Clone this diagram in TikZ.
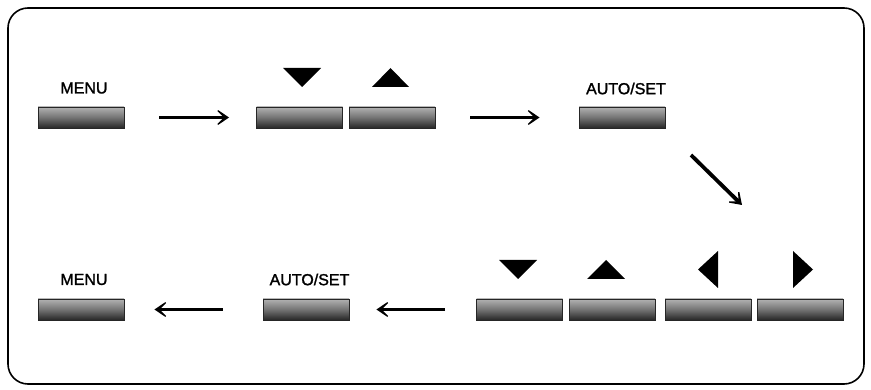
\documentclass[tikz,border=0pt]{standalone}
\usepackage{fontspec}
\setmainfont{Liberation Sans}[FakeBold=1.5]
\usetikzlibrary{arrows.meta}
\begin{document}
\begin{tikzpicture}[x=1pt,y=-1pt,
  btn/.style={draw=black!85, line width=0.9pt, minimum width=86pt, minimum height=21pt, inner sep=0pt,
    top color=black!30, bottom color=black!85, middle color=black!55},
  lbl/.style={font=\fontsize{16}{18}\selectfont, inner sep=0pt},
  arr/.style={line width=3.8pt, -{Stealth[length=17pt,width=23pt,inset=12pt]}},
  tri/.style={fill=black}]
\useasboundingbox (0,0) rectangle (871,390);
\draw[line width=1.6pt, rounded corners=20pt] (8,8) rectangle (864,384);
% top row
\node[btn] (m1) at (81,117.5) {};
\node[lbl] (m1l) at (84,88) {MENU};
\node[btn] (b1) at (299.5,117.5) {};
\node[btn] (b2) at (392,117.5) {};
\node[btn] (a1) at (622,117.5) {};
\node[lbl] (a1l) at (626,88.5) {AUTO/SET};
\fill[tri] (283,68) -- (321,68) -- (302,87) -- cycle;
\fill[tri] (372,87) -- (409,87) -- (390.5,68) -- cycle;
% bottom row
\node[btn] (m2) at (81,309.5) {};
\node[lbl] (m2l) at (84,279.5) {MENU};
\node[btn] (a2) at (306,309.5) {};
\node[lbl] (a2l) at (309.5,279.5) {AUTO/SET};
\node[btn] (r1) at (519.5,309.5) {};
\node[btn] (r2) at (612,309.5) {};
\node[btn] (r3) at (708,309.5) {};
\node[btn] (r4) at (800,309.5) {};
\fill[tri] (499,260) -- (537,260) -- (518,279) -- cycle;
\fill[tri] (587,279) -- (625,279) -- (606,260) -- cycle;
\fill[tri] (718,251) -- (718,288) -- (698,269.5) -- cycle;
\fill[tri] (793,251) -- (793,288) -- (813,269.5) -- cycle;
% arrows
\draw[arr, shorten <=35pt, shorten >=27pt] (m1.east) -- (b1.west);
\draw[arr, shorten <=35pt, shorten >=39pt] (b2.east) -- (a1.west);
\coordinate (d1) at (691,155);
\coordinate (d2) at (742,205);
\draw[arr] (d1) -- (d2);
\draw[arr, shorten <=31pt, shorten >=27pt] (r1.west) -- (a2.east);
\draw[arr, shorten <=40pt, shorten >=30pt] (a2.west) -- (m2.east);
\end{tikzpicture}
\end{document}
